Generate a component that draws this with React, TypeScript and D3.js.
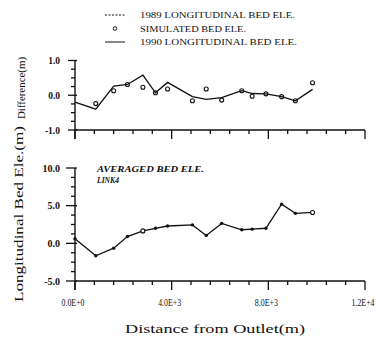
import React from "react";
import * as d3 from "d3";

const distance = [0, 860, 1600, 2170, 2810, 3330, 3830, 4860, 5430, 6070, 6900, 7330, 7900, 8550, 9120, 9830];
const diff1990 = [-0.2, -0.4, 0.26, 0.31, 0.58, 0.07, 0.37, -0.04, -0.12, -0.07, 0.13, 0.05, 0.04, -0.04, -0.16, 0.17];
const diffSimulated: (number | null)[] = [null, -0.24, 0.13, 0.31, 0.23, 0.07, 0.18, -0.16, 0.18, -0.14, 0.13, -0.03, 0.04, -0.04, -0.16, 0.36];
const bedEle = [0.6, -1.65, -0.64, 0.9, 1.65, 2.0, 2.3, 2.45, 1.05, 2.65, 1.8, 1.88, 2.0, 5.2, 3.98, 4.1];
const bedOpen = [4, 15];

const xTicks = [0, 4000, 8000, 12000];
const xTickLabels = ["0.0E+0", "4.0E+3", "8.0E+3", "1.2E+4"];
const topTicks = [1, 0, -1];
const topTickLabels = ["1.0", "0.0", "-1.0"];
const botTicks = [10, 5, 0, -5];
const botTickLabels = ["10.0", "5.0", "0.0", "-5.0"];
const legendLabels = ["1989 LONGITUDINAL BED ELE.", "SIMULATED BED ELE.", "1990 LONGITUDINAL BED ELE."];

const SERIF = "'Liberation Serif', 'DejaVu Serif', serif";
const INK = "#111";

export default function App() {
  const x = d3.scaleLinear().domain([0, 12000]).range([75, 365]);
  const yTop = d3.scaleLinear().domain([-1, 1]).range([130, 60.5]);
  const yBot = d3.scaleLinear().domain([-5, 10]).range([281, 168]);

  const topLine = d3.line<number>().x((_, i) => x(distance[i])).y((d) => yTop(d))(diff1990) || "";
  const botLine = d3.line<number>().x((_, i) => x(distance[i])).y((d) => yBot(d))(bedEle) || "";

  const minorX = d3.range(0, 12001, 800);
  const minorTop = d3.range(-1, 1.001, 0.25);
  const minorBot = d3.range(-5, 10.001, 1.25);

  const xAxis = (y0: number, labels: boolean) => (
    <g>
      <line x1={x(0)} x2={x(12000)} y1={y0} y2={y0} stroke={INK} strokeWidth={1.4} />
      {minorX.map((t) => (
        <line key={t} x1={x(t)} x2={x(t)} y1={y0} y2={y0 + (t % 4000 === 0 ? 9 : 4)} stroke={INK} strokeWidth={1.3} />
      ))}
      {labels &&
        xTicks.map((t, i) => (
          <text key={t} x={x(t) - 2} y={y0 + 25} textAnchor="middle" fontFamily={SERIF} fontSize={10.5}
            textLength={23} lengthAdjust="spacingAndGlyphs" fill={INK}>
            {xTickLabels[i]}
          </text>
        ))}
    </g>
  );

  return (
    <svg width={383} height={344} style={{ position: "absolute", left: 0, top: 0, background: "#fff" }}>
      <rect width={383} height={344} fill="#fff" />
      {/* Legend */}
      <g fontFamily={SERIF} fontSize={8.5} fill={INK}>
        <line x1={105} x2={125} y1={15} y2={15} stroke={INK} strokeWidth={1} strokeDasharray="2,1.5" />
        <text x={140} y={18} textLength={155} lengthAdjust="spacingAndGlyphs">{legendLabels[0]}</text>
        <circle cx={115} cy={28.5} r={1.8} fill="none" stroke={INK} strokeWidth={1} />
        <text x={140} y={31.5} textLength={106} lengthAdjust="spacingAndGlyphs">{legendLabels[1]}</text>
        <line x1={105} x2={125} y1={42} y2={42} stroke={INK} strokeWidth={1} />
        <text x={140} y={45} textLength={157} lengthAdjust="spacingAndGlyphs">{legendLabels[2]}</text>
      </g>

      {/* Top panel */}
      <line x1={x(0)} x2={x(0)} y1={yTop(1)} y2={yTop(-1) + 9} stroke={INK} strokeWidth={1.4} />
      {minorTop.map((t) => {
        const major = Math.abs(t - Math.round(t)) < 1e-6;
        return <line key={t} x1={x(0) - (major ? 7 : 4)} x2={x(0) + (major ? 2 : 0)} y1={yTop(t)} y2={yTop(t)} stroke={INK} strokeWidth={1.3} />;
      })}
      {topTicks.map((t, i) => (
        <text key={t} x={x(0) - 15} y={yTop(t) + 3.5} textAnchor="end" fontFamily={SERIF} fontSize={9.5} fontWeight="bold" fill={INK}>
          {topTickLabels[i]}
        </text>
      ))}
      {xAxis(yTop(-1), false)}
      <path d={topLine} fill="none" stroke={INK} strokeWidth={1.3} />
      {diffSimulated.map((v, i) =>
        v === null ? null : (
          <circle key={i} cx={x(distance[i])} cy={yTop(v)} r={2} fill="none" stroke={INK} strokeWidth={1.1} />
        )
      )}

      {/* Bottom panel */}
      <text x={97} y={172} fontFamily={SERIF} fontSize={8} fontStyle="italic" fontWeight="bold" fill={INK}
        textLength={107} lengthAdjust="spacingAndGlyphs">AVERAGED BED ELE.</text>
      <text x={97} y={183} fontFamily={SERIF} fontSize={7.5} fontStyle="italic" fontWeight="bold" fill={INK}
        textLength={22} lengthAdjust="spacingAndGlyphs">LINK4</text>
      <line x1={x(0)} x2={x(0)} y1={yBot(10)} y2={yBot(-5) + 9} stroke={INK} strokeWidth={1.4} />
      {minorBot.map((t) => {
        const major = Math.abs(t / 5 - Math.round(t / 5)) < 1e-6;
        return <line key={t} x1={x(0) - (major ? 9 : 4)} x2={x(0) + (major ? 2 : 0)} y1={yBot(t)} y2={yBot(t)} stroke={INK} strokeWidth={1.3} />;
      })}
      {botTicks.map((t, i) => (
        <text key={t} x={x(0) - 15} y={yBot(t) + 3.5} textAnchor="end" fontFamily={SERIF} fontSize={10} fontWeight="bold" fill={INK}>
          {botTickLabels[i]}
        </text>
      ))}
      {xAxis(yBot(-5), true)}
      <path d={botLine} fill="none" stroke={INK} strokeWidth={1.3} />
      {bedEle.map((v, i) =>
        bedOpen.includes(i) ? (
          <circle key={i} cx={x(distance[i])} cy={yBot(v)} r={2} fill="#fff" stroke={INK} strokeWidth={1.1} />
        ) : (
          <circle key={i} cx={x(distance[i])} cy={yBot(v)} r={1.7} fill={INK} />
        )
      )}

      {/* Axis titles */}
      <text x={215} y={333} textAnchor="middle" fontFamily={SERIF} fontSize={13.5} fill={INK}
        textLength={180} lengthAdjust="spacingAndGlyphs">Distance from Outlet(m)</text>
      <text transform="translate(23,214) rotate(-90)" textAnchor="middle" fontFamily={SERIF} fontSize={12.5} fill={INK}
        textLength={176} lengthAdjust="spacingAndGlyphs">Longitudinal Bed Ele.(m)</text>
      <text transform="translate(25,88) rotate(-90)" textAnchor="middle" fontFamily={SERIF} fontSize={11} fill={INK}
        textLength={62} lengthAdjust="spacingAndGlyphs">Difference(m)</text>
    </svg>
  );
}
